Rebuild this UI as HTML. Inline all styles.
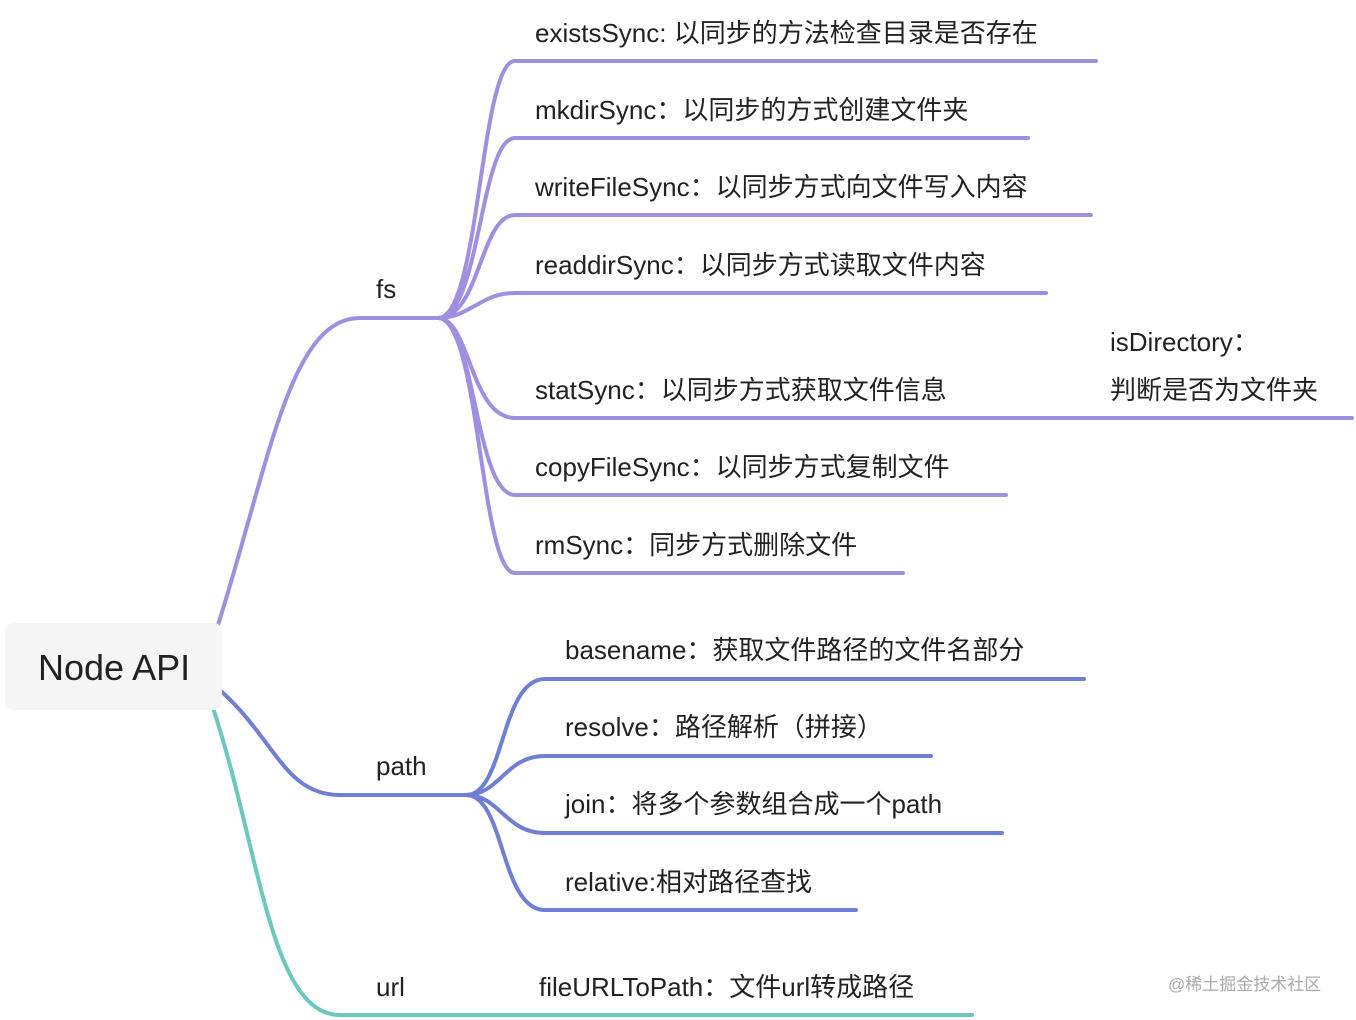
<!DOCTYPE html>
<html><head><meta charset="utf-8"><style>
html,body{margin:0;padding:0;background:#fff;}
svg{display:block;}
text{font-family:"Liberation Sans","Noto Sans CJK SC",sans-serif;fill:#222;font-size:26px;}
</style></head><body>
<svg width="1356" height="1020" viewBox="0 0 1356 1020" xmlns="http://www.w3.org/2000/svg">
<g fill="none" stroke-width="4" stroke-linecap="round">
<!-- fs -->
<g stroke="#a08ee0">
<path d="M218 625 C 270 460, 290 318, 360 318 L 440 318"/>
<path d="M438 318 C 480 318, 480 61, 515 61 L 1096 61"/>
<path d="M438 318 C 480 318, 480 138, 515 138 L 1028 138"/>
<path d="M438 318 C 480 318, 480 215, 515 215 L 1091 215"/>
<path d="M438 318 C 470 318, 480 293, 515 293 L 1046 293"/>
<path d="M438 318 C 470 318, 470 418, 515 418 L 1352 418"/>
<path d="M438 318 C 475 318, 475 495, 515 495 L 1006 495"/>
<path d="M438 318 C 480 318, 480 573, 515 573 L 903 573"/>
</g>
<!-- path -->
<g stroke="#6f7fd8">
<path d="M222 692 C 275 740, 285 795, 340 795 L 468 795"/>
<path d="M466 795 C 505 795, 500 679, 545 679 L 1084 679"/>
<path d="M466 795 C 500 795, 505 756, 545 756 L 931 756"/>
<path d="M466 795 C 500 795, 505 833, 545 833 L 1002 833"/>
<path d="M466 795 C 505 795, 500 910, 545 910 L 856 910"/>
</g>
<!-- url -->
<path stroke="#6cc8bc" d="M213 708 C 260 850, 270 1015, 340 1015 L 972 1015"/>
</g>
<rect x="5" y="623" width="217" height="87" rx="8" fill="#f5f5f5"/>
<text x="38" y="680" style="font-size:36px">Node API</text>
<text x="376" y="298">fs</text>
<text x="376" y="775">path</text>
<text x="376" y="996">url</text>
<text x="535" y="42">existsSync: 以同步的方法检查目录是否存在</text>
<text x="535" y="119">mkdirSync：以同步的方式创建文件夹</text>
<text x="535" y="196">writeFileSync：以同步方式向文件写入内容</text>
<text x="535" y="274">readdirSync：以同步方式读取文件内容</text>
<text x="535" y="399">statSync：以同步方式获取文件信息</text>
<text x="1110" y="351">isDirectory：</text>
<text x="1110" y="399">判断是否为文件夹</text>
<text x="535" y="476">copyFileSync：以同步方式复制文件</text>
<text x="535" y="554">rmSync：同步方式删除文件</text>
<text x="565" y="659">basename：获取文件路径的文件名部分</text>
<text x="565" y="736">resolve：路径解析（拼接）</text>
<text x="565" y="813">join：将多个参数组合成一个path</text>
<text x="565" y="891">relative:相对路径查找</text>
<text x="539" y="996">fileURLToPath：文件url转成路径</text>
<text x="1168" y="990" style="font-size:17px;fill:#aaa">@稀土掘金技术社区</text>
</svg>
</body></html>
